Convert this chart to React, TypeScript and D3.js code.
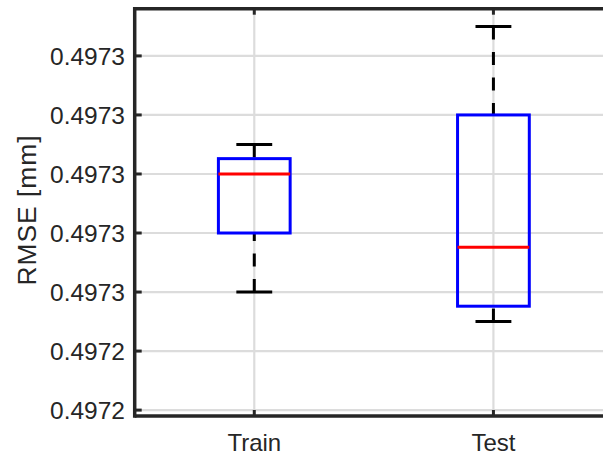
import React from "react";
import * as d3 from "d3";

// Box statistics per group
const categories = ["Train", "Test"];
const whiskerLow = [0.49725, 0.4972475];
const quartile1 = [0.497255, 0.4972488];
const medians = [0.49726, 0.4972538];
const quartile3 = [0.4972613, 0.497265];
const whiskerHigh = [0.4972625, 0.4972725];

// Y axis ticks (labels shown at 4 decimals)
const yTicks = [0.49724, 0.497245, 0.49725, 0.497255, 0.49726, 0.497265, 0.49727];
const yTickLabels = ["0.4972", "0.4972", "0.4973", "0.4973", "0.4973", "0.4973", "0.4973"];

const W = 603;
const H = 457;
const left = 134.7;
const top = 8.7;
const bottom = 416;
const xRight = 613;

const FONT = "'Liberation Sans', Arial, Helvetica, sans-serif";
const AXIS = "#262626";
const GRID = "#dcdcdc";

export default function App() {
  const x = d3.scaleLinear().domain([0.5, 2.5]).range([left, xRight]);
  const y = d3.scaleLinear().domain([0.4972395, 0.497274]).range([bottom, top]);

  const boxHalf = 0.15;
  const capHalf = 0.075;

  return (
    <svg
      width={W}
      height={H}
      style={{ position: "absolute", left: 0, top: 0, background: "#fff" }}
      fontFamily={FONT}
    >
      {/* grid */}
      {yTicks.map((t, i) => (
        <line key={"gy" + i} x1={left} x2={W} y1={y(t)} y2={y(t)} stroke={GRID} strokeWidth={2.2} />
      ))}
      {categories.map((c, i) => (
        <line key={"gx" + i} x1={x(i + 1)} x2={x(i + 1)} y1={top} y2={bottom} stroke={GRID} strokeWidth={2.2} />
      ))}

      {/* boxes */}
      {categories.map((c, i) => {
        const cx = x(i + 1);
        const bx0 = x(i + 1 - boxHalf);
        const bx1 = x(i + 1 + boxHalf);
        const cx0 = x(i + 1 - capHalf);
        const cx1 = x(i + 1 + capHalf);
        return (
          <g key={"b" + i}>
            <line x1={cx} x2={cx} y1={y(whiskerHigh[i])} y2={y(quartile3[i])} stroke="#000" strokeWidth={3} strokeDasharray="13,12.5" />
            <line x1={cx} x2={cx} y1={y(whiskerLow[i])} y2={y(quartile1[i])} stroke="#000" strokeWidth={3} strokeDasharray="13,12.5" />
            <line x1={cx0} x2={cx1} y1={y(whiskerHigh[i])} y2={y(whiskerHigh[i])} stroke="#000" strokeWidth={3} />
            <line x1={cx0} x2={cx1} y1={y(whiskerLow[i])} y2={y(whiskerLow[i])} stroke="#000" strokeWidth={3} />
            <rect
              x={bx0}
              y={y(quartile3[i])}
              width={bx1 - bx0}
              height={y(quartile1[i]) - y(quartile3[i])}
              fill="none"
              stroke="#0000ff"
              strokeWidth={3}
            />
            <line x1={bx0} x2={bx1} y1={y(medians[i])} y2={y(medians[i])} stroke="#ff0000" strokeWidth={3} />
          </g>
        );
      })}

      {/* axes lines */}
      <line x1={left} x2={W} y1={top} y2={top} stroke={AXIS} strokeWidth={3.5} />
      <line x1={left} x2={W} y1={bottom} y2={bottom} stroke={AXIS} strokeWidth={3.5} />
      <line x1={left} x2={left} y1={top - 1.75} y2={bottom + 1.75} stroke={AXIS} strokeWidth={3.5} />

      {/* y ticks */}
      {yTicks.map((t, i) => (
        <g key={"ty" + i}>
          <line x1={left} x2={left + 7} y1={y(t)} y2={y(t)} stroke={AXIS} strokeWidth={3} />
          <text x={125} y={y(t)} dy="0.36em" textAnchor="end" fontSize={24.5} fill={AXIS}>
            {yTickLabels[i]}
          </text>
        </g>
      ))}

      {/* x ticks */}
      {categories.map((c, i) => (
        <g key={"tx" + i}>
          <line x1={x(i + 1)} x2={x(i + 1)} y1={bottom} y2={bottom - 6} stroke={AXIS} strokeWidth={3} />
          <line x1={x(i + 1)} x2={x(i + 1)} y1={top} y2={top + 6} stroke={AXIS} strokeWidth={3} />
          <text x={x(i + 1)} y={451} textAnchor="middle" fontSize={24} fill={AXIS}>
            {c}
          </text>
        </g>
      ))}

      {/* y label */}
      <text
        transform={`translate(36,210) rotate(-90)`}
        textAnchor="middle"
        fontSize={26.4}
        letterSpacing={1}
        fill={AXIS}
      >
        RMSE [mm]
      </text>
    </svg>
  );
}
